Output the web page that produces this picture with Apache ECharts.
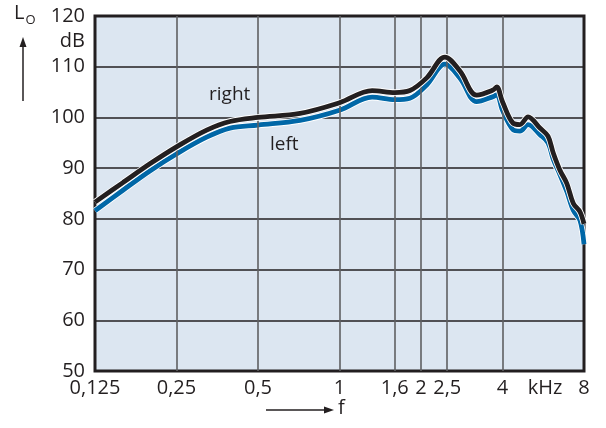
<!DOCTYPE html>
<html>
<head>
<meta charset="utf-8">
<script src="https://cdn.jsdelivr.net/npm/echarts@6/dist/echarts.min.js"></script>
<style>
html,body{margin:0;padding:0;background:#fff;}
#chart{width:606px;height:428px;}
</style>
</head>
<body>
<div id="chart"></div>
<script>
// Frequencies (kHz) at which the curves were read
const freqs = [0.125, 0.159, 0.2, 0.25, 0.323, 0.394, 0.5, 0.715, 1.0, 1.32, 1.6, 1.82, 2.1, 2.45, 2.79, 3.21, 3.69, 3.81, 4.0, 4.37, 4.64, 4.97, 5.5, 5.89, 6.16, 6.52, 6.91, 7.3, 7.73, 8.0];
// Level L_o (dB)
const rightValues = [83.3, 87.2, 90.9, 94.2, 97.5, 99.2, 100.0, 100.8, 102.9, 105.3, 104.9, 105.3, 107.8, 111.9, 109.1, 104.4, 105.4, 106.0, 103.1, 98.9, 98.6, 100.1, 97.9, 96.3, 93.0, 89.6, 87.0, 83.1, 81.4, 79.0];
const leftValues  = [81.6, 85.7, 89.5, 92.8, 96.1, 97.9, 98.5, 99.4, 101.4, 104.0, 103.5, 103.8, 106.4, 110.5, 107.7, 103.1, 104.1, 104.5, 101.4, 97.6, 97.3, 98.6, 96.6, 95.0, 91.7, 88.7, 85.4, 81.7, 79.7, 75.0];
// Axis ticks
const xTicks = [0.125, 0.25, 0.5, 1, 1.6, 2, 2.5, 4, 8];
const xGridLines = [0.25, 0.5, 1, 1.6, 2, 2.5, 4];
const xUnitPos = 5.75; const xUnitLabel = 'kHz';
const yTicks = [50, 60, 70, 80, 90, 100, 110, 120];
const yUnitPos = 115; const yUnitLabel = 'dB';
const seriesNames = ['right', 'left'];

const FONT = '"Open Sans", "Noto Sans", sans-serif';
const TXT = '#231f20';

const pairs = (vals) => freqs.map((f, i) => [f, vals[i]]);

const chart = echarts.init(document.getElementById('chart'));
chart.setOption({
  animation: false,
  grid: {
    left: 95, right: 22, top: 16, bottom: 57,
    show: true, backgroundColor: '#dce6f1', borderColor: '#231f20', borderWidth: 3
  },
  xAxis: {
    type: 'log', logBase: 2, min: 0.125, max: 8,
    axisLine: { show: false }, axisTick: { show: false }, splitLine: { show: false },
    axisLabel: {
      customValues: xTicks.concat([xUnitPos]),
      formatter: (v) => (Math.abs(v - xUnitPos) < 1e-6 ? xUnitLabel : String(v).replace('.', ',')),
      color: TXT, fontFamily: FONT, fontSize: 20, margin: 7, showMinLabel: true, showMaxLabel: true
    }
  },
  yAxis: {
    type: 'value', min: 50, max: 120, interval: 10,
    axisLine: { show: false }, axisTick: { show: false },
    splitLine: { show: true, lineStyle: { color: '#231f20', width: 1.5 } },
    axisLabel: {
      customValues: yTicks.concat([yUnitPos]),
      formatter: (v) => (v === yUnitPos ? yUnitLabel : String(v)),
      color: TXT, fontFamily: FONT, fontSize: 20, margin: 10
    }
  },
  series: [
    {
      type: 'line', data: [], silent: true,
      markLine: {
        silent: true, symbol: 'none', label: { show: false },
        lineStyle: { color: '#5f6062', width: 1.6, type: 'solid' },
        data: xGridLines.map(v => ({ xAxis: v }))
      }
    },
    { type: 'line', data: pairs(leftValues), smooth: 0.35, showSymbol: false, silent: true,
      lineStyle: { color: '#ffffff', width: 6.5 }, z: 3 },
    { name: seriesNames[1], type: 'line', data: pairs(leftValues), smooth: 0.35, showSymbol: false, silent: true,
      lineStyle: { color: '#0067a7', width: 4.8 }, z: 4 },
    { type: 'line', data: pairs(rightValues), smooth: 0.35, showSymbol: false, silent: true,
      lineStyle: { color: '#ffffff', width: 6.5 }, z: 5 },
    { name: seriesNames[0], type: 'line', data: pairs(rightValues), smooth: 0.35, showSymbol: false, silent: true,
      lineStyle: { color: '#231f20', width: 4.8 }, z: 6 }
  ],
  graphic: [
    { type: 'text', left: 209, top: 85, style: { text: seriesNames[0], fill: TXT, font: '19px ' + FONT } },
    { type: 'text', left: 270, top: 135, style: { text: seriesNames[1], fill: TXT, font: '19px ' + FONT } },
    { type: 'text', left: 14, top: 3, style: { text: '{a|L}{b|O}', rich: { a: { fontSize: 20, fontFamily: FONT, fill: TXT }, b: { fontSize: 13, fontFamily: FONT, fill: TXT, padding: [15, 0, 0, 1] } } } },
    { type: 'line', shape: { x1: 23, y1: 101, x2: 23, y2: 46 }, style: { stroke: TXT, lineWidth: 1.5 } },
    { type: 'polygon', shape: { points: [[23, 37], [19.5, 47], [26.5, 47]] }, style: { fill: TXT } },
    { type: 'line', shape: { x1: 266, y1: 410, x2: 325, y2: 410 }, style: { stroke: TXT, lineWidth: 1.5 } },
    { type: 'polygon', shape: { points: [[334, 410], [324, 406.5], [324, 413.5]] }, style: { fill: TXT } },
    { type: 'text', left: 338, top: 398, style: { text: 'f', fill: TXT, font: '20px ' + FONT } }
  ]
});
</script>
</body>
</html>
